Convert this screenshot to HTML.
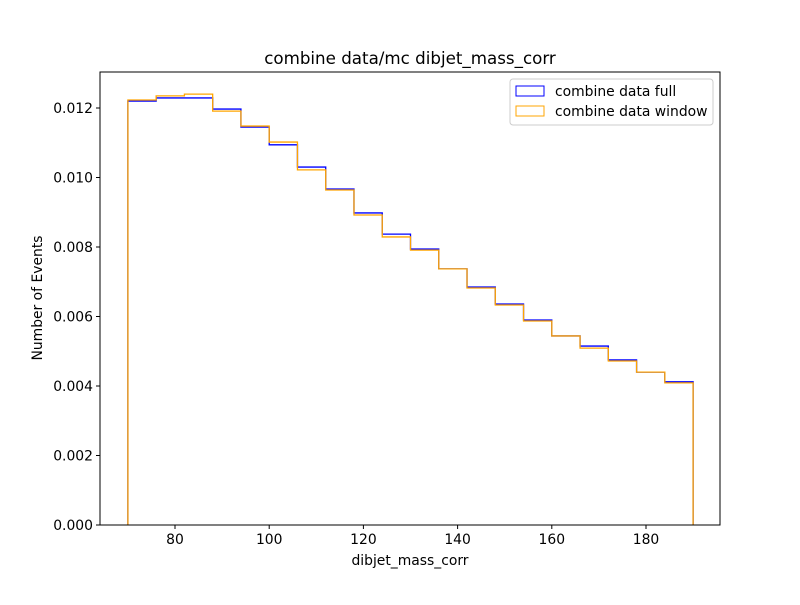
<!DOCTYPE html>
<html><head><meta charset="utf-8"><style>
body{margin:0;background:#fff;}
svg{font-family:"DejaVu Sans","Liberation Sans",sans-serif;}
</style></head><body>
<svg id="chart" width="800" height="600">
<rect width="800" height="600" fill="#fff"/>
<text x="410" y="64" text-anchor="middle" font-size="16.7">combine data/mc dibjet_mass_corr</text>
<g id="marks"></g>
<g id="axes"></g>
<text x="410" y="565" text-anchor="middle" font-size="13.9">dibjet_mass_corr</text>
<text transform="translate(42,298) rotate(-90)" text-anchor="middle" font-size="13.9">Number of Events</text>
<g>
<rect x="510" y="79" width="203" height="46" fill="#fff" stroke="#ccc" rx="3"/>
<rect x="516" y="86" width="28" height="10" fill="none" stroke="blue"/>
<text x="555" y="96" font-size="13.9">combine data full</text>
<rect x="516" y="106" width="28" height="10" fill="none" stroke="orange"/>
<text x="555" y="116" font-size="13.9">combine data window</text>
</g>
</svg>
<script>
const binEdgesStart = 70;
const binWidth = 6;
const fullValues = [0.0122,0.01229,0.01229,0.01197,0.01145,0.01094,0.0103,0.00967,0.00898,0.00837,0.00794,0.00737,0.00685,0.00636,0.0059,0.00544,0.00515,0.00475,0.0044,0.00412];
const windowValues = [0.01223,0.01235,0.0124,0.01191,0.01148,0.01102,0.01022,0.00964,0.00892,0.00829,0.00791,0.00737,0.00682,0.00633,0.00587,0.00544,0.00509,0.00472,0.0044,0.00409];
const xTicks = [80,100,120,140,160,180];
const yTicks = [0,0.002,0.004,0.006,0.008,0.010,0.012];
const yTickLabels = ["0.000","0.002","0.004","0.006","0.008","0.010","0.012"];

const NS="http://www.w3.org/2000/svg";
const L=100,R=720,T=72,B=525;
function xs(v){return 175+(v-80)*4.71;}
function ys(v){return B-v*34750;}
const marks=document.getElementById('marks');
const axes=document.getElementById('axes');
function stepPath(vals){
  let d="M"+xs(binEdgesStart)+","+ys(0);
  vals.forEach((v,i)=>{
    const x0=xs(binEdgesStart+i*binWidth),x1=xs(binEdgesStart+(i+1)*binWidth);
    d+=" L"+x0+","+ys(v)+" L"+x1+","+ys(v);
  });
  d+=" L"+xs(binEdgesStart+vals.length*binWidth)+","+ys(0);
  return d;
}
let p=document.createElementNS(NS,'path');
p.setAttribute('d',stepPath(fullValues));p.setAttribute('fill','none');p.setAttribute('stroke','blue');p.setAttribute('stroke-width','1.3');


marks.appendChild(p);
p=document.createElementNS(NS,'path');
p.setAttribute('d',stepPath(windowValues));p.setAttribute('fill','none');p.setAttribute('stroke','orange');p.setAttribute('stroke-width','1.3');


marks.appendChild(p);
let fr=document.createElementNS(NS,'rect');
fr.setAttribute('x',L);fr.setAttribute('y',T);fr.setAttribute('width',R-L);fr.setAttribute('height',B-T);fr.setAttribute('fill','none');fr.setAttribute('stroke','#000');fr.setAttribute('stroke-width','1');


axes.appendChild(fr);
xTicks.forEach(v=>{
  const x=xs(v);
  const l=document.createElementNS(NS,'line');
  l.setAttribute('x1',x);l.setAttribute('x2',x);l.setAttribute('y1',B);l.setAttribute('y2',B+4);l.setAttribute('stroke','#000');
  
  
  axes.appendChild(l);
  const t=document.createElementNS(NS,'text');
  t.setAttribute('x',x);t.setAttribute('y',B+19);t.setAttribute('text-anchor','middle');t.setAttribute('font-size','13.9');t.textContent=v;
  
  
  axes.appendChild(t);
});
yTicks.forEach((v,i)=>{
  const y=ys(v);
  const l=document.createElementNS(NS,'line');
  l.setAttribute('x1',L-4);l.setAttribute('x2',L);l.setAttribute('y1',y);l.setAttribute('y2',y);l.setAttribute('stroke','#000');
  
  
  axes.appendChild(l);
  const t=document.createElementNS(NS,'text');
  t.setAttribute('x',L-7);t.setAttribute('y',y+5);t.setAttribute('text-anchor','end');t.setAttribute('font-size','13.9');t.textContent=yTickLabels[i];
  
  
  axes.appendChild(t);
});
</script>
</body></html>
